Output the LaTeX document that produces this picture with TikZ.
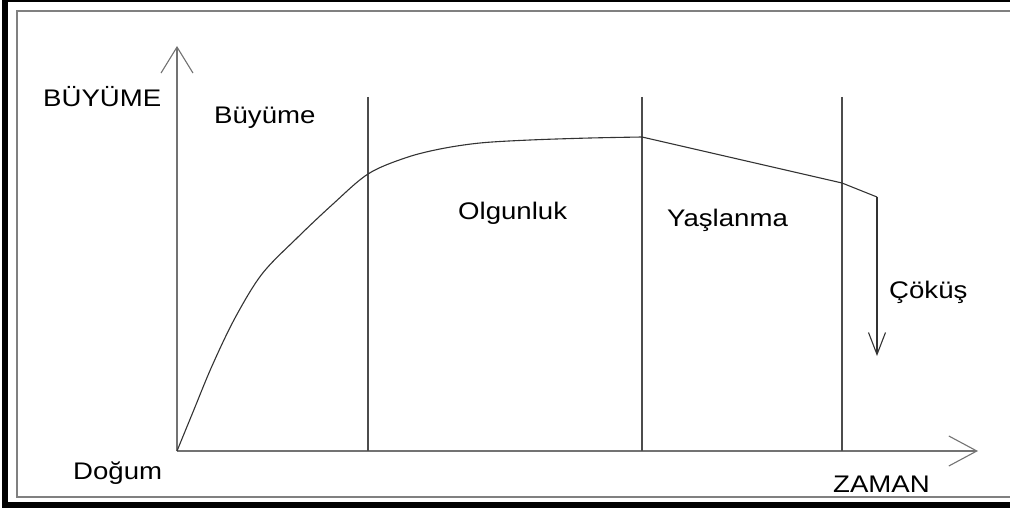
\documentclass[tikz,border=0pt]{standalone}
\usepackage{graphicx}
\usepackage{fontspec}
\setmainfont{Liberation Sans}
\usetikzlibrary{arrows.meta}

\newcommand{\wide}[1]{\scalebox{1.15}[1]{#1}}
\tikzset{
  lbl/.style={anchor=base west, inner sep=0pt, font=\fontsize{24}{27}\selectfont},
  axis/.style={draw=black!55, line width=1.1pt},
  phase/.style={draw=black!70, line width=1.1pt},
  curve/.style={draw=black!80, line width=1.1pt, line join=round},
}

\begin{document}
\begin{tikzpicture}[x=1pt, y=-1pt]
    \useasboundingbox (0,0) rectangle (1010,508);
    \clip (0,0) rectangle (1010,508);
    % frame
    \draw[line width=5.5pt] (5,-0.5) rectangle (1030,505);
    \draw[black!50, line width=1.6pt] (17,11) rectangle (1030,497);
    % axes
    \coordinate (O) at (177,451);
    \coordinate (ytip) at (177,46);
    \coordinate (xtip) at (978,451);
    \draw[axis, -{Straight Barb[length=26pt, width=32pt, line width=1.1pt]}] (O) -- (ytip);
    \draw[axis, -{Straight Barb[length=28pt, width=30pt, line width=1.1pt]}] (O) -- (xtip);
    % phase borders
    \coordinate (p1) at (368,97);  \coordinate (q1) at (368,451);
    \coordinate (p2) at (642,97);  \coordinate (q2) at (642,451);
    \coordinate (p3) at (842,97);  \coordinate (q3) at (842,451);
    \draw[phase] (p1) -- (q1);
    \draw[phase] (p2) -- (q2);
    \draw[phase] (p3) -- (q3);
    % life curve
    \coordinate (top) at (642,137);
    \coordinate (old) at (842,183);
    \coordinate (fall) at (877,197);
    \coordinate (end) at (877,356);
    \draw[curve] plot[smooth, tension=0.55] coordinates {(O) (193,412) (212,366) (235,318) (262,274) (297,238) (333,204) (368,174) (405,158) (440,149) (480,143) (530,140) (590,138) (top)};
    \draw[curve] (top) -- (old) -- (fall);
    \draw[curve, -{Straight Barb[length=22pt, width=17pt, line width=1.1pt]}] (fall) -- (end);
    % labels
    \node[lbl] (yl) at (43,107) {\wide{BÜYÜME}};
    \node[lbl] (g1) at (214,124) {\wide{Büyüme}};
    \node[lbl] (g2) at (458,219) {\wide{Olgunluk}};
    \node[lbl] (g3) at (667,226) {\wide{Yaşlanma}};
    \node[lbl] (g4) at (889,298) {\wide{Çöküş}};
    \node[lbl] (st) at (73,479) {\wide{Doğum}};
    \node[lbl] (xl) at (833,492) {\wide{ZAMAN}};
\end{tikzpicture}
\end{document}
